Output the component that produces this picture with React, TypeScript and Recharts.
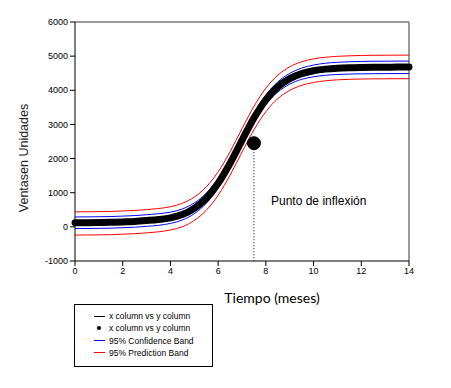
import React from 'react';
import {
  ComposedChart,
  Line,
  XAxis,
  YAxis,
  ReferenceLine,
  ReferenceDot,
} from 'recharts';

// months (x) and fitted sales (y)
const months = [0, 0.5, 1, 1.5, 2, 2.5, 3, 3.5, 4, 4.5, 5, 5.5, 6, 6.5, 7, 7.5, 8, 8.5, 9, 9.5, 10, 10.5, 11, 11.5, 12, 12.5, 13, 13.5, 14];
const fitted = [120, 122, 126, 132, 145, 160, 185, 215, 265, 362, 543, 836, 1276, 1863, 2536, 3187, 3719, 4097, 4340, 4487, 4572, 4620, 4647, 4662, 4670, 4675, 4677, 4679, 4680];
const confUpper = [290, 292, 296, 302, 315, 330, 355, 385, 430, 525, 700, 985, 1420, 2003, 2676, 3327, 3860, 4245, 4495, 4650, 4740, 4792, 4820, 4836, 4845, 4850, 4852, 4854, 4855];
const confLower = [-50, -48, -44, -38, -25, -10, 15, 45, 100, 200, 386, 687, 1132, 1723, 2396, 3047, 3578, 3947, 4180, 4320, 4395, 4440, 4462, 4475, 4482, 4486, 4488, 4490, 4490];
const predUpper = [440, 442, 446, 452, 465, 480, 505, 537, 590, 690, 872, 1168, 1610, 2200, 2875, 3528, 4062, 4442, 4687, 4835, 4920, 4968, 4995, 5010, 5020, 5025, 5027, 5029, 5030];
const predLower = [-240, -238, -234, -228, -215, -200, -175, -145, -92, 5, 188, 484, 926, 1515, 2190, 2842, 3375, 3754, 3997, 4145, 4230, 4279, 4306, 4321, 4330, 4335, 4337, 4339, 4340];

const xTicks = [0, 2, 4, 6, 8, 10, 12, 14];
const yTicks = [-1000, 0, 1000, 2000, 3000, 4000, 5000, 6000];

const inflection = { x: 7.5, y: 2450 };

const legendItems = [
  { label: 'x column vs y column', kind: 'line', color: '#000' },
  { label: 'x column vs y column', kind: 'dot', color: '#000' },
  { label: '95% Confidence Band', kind: 'line', color: '#0000ff' },
  { label: '95% Prediction Band', kind: 'line', color: '#ff0000' },
];

const chartData = months.map((m, i) => ({
  x: m,
  fit: fitted[i],
  cu: confUpper[i],
  cl: confLower[i],
  pu: predUpper[i],
  pl: predLower[i],
}));

const tickStyle = { fontSize: 9, fill: '#000', fontFamily: 'Liberation Sans, Arial, sans-serif' };

export default function App() {
  return (
    <div style={{ position: 'absolute', left: 0, top: 0, width: 451, height: 388, background: '#fff' }}>
      <ComposedChart
        width={451}
        height={388}
        data={chartData}
        margin={{ top: 22, right: 42, bottom: 107, left: 0 }}
      >
        <XAxis
          type="number"
          dataKey="x"
          domain={[0, 14]}
          ticks={xTicks}
          height={20}
          tick={tickStyle}
          tickSize={5}
          tickMargin={2}
          stroke="#000"
          interval={0}
        />
        <YAxis
          type="number"
          domain={[-1000, 6000]}
          ticks={yTicks}
          width={75}
          tick={tickStyle}
          tickSize={5}
          tickMargin={2}
          stroke="#000"
          interval={0}
          label={() => (
            <text
              x={24}
              y={158}
              transform="rotate(-90 24 158)"
              textAnchor="middle"
              dominantBaseline="central"
              fontSize={12.5}
              fontFamily="Liberation Sans, Arial, sans-serif"
              fill="#222"
            >
              Ventasen Unidades
            </text>
          )}
        />
        <ReferenceLine y={6000} stroke="#777" strokeWidth={1.5} />
        <ReferenceLine x={14} stroke="#777" strokeWidth={1.5} />
        <Line dataKey="pu" type="monotone" stroke="#ff0000" strokeWidth={1} dot={false} isAnimationActive={false} />
        <Line dataKey="pl" type="monotone" stroke="#ff0000" strokeWidth={1} dot={false} isAnimationActive={false} />
        <Line dataKey="cu" type="monotone" stroke="#0000ff" strokeWidth={1} dot={false} isAnimationActive={false} />
        <Line dataKey="cl" type="monotone" stroke="#0000ff" strokeWidth={1} dot={false} isAnimationActive={false} />
        <Line dataKey="fit" type="monotone" stroke="#000" strokeWidth={7} strokeLinecap="round" dot={false} isAnimationActive={false} />
        <ReferenceLine
          segment={[{ x: inflection.x, y: inflection.y }, { x: inflection.x, y: -1000 }]}
          stroke="#000"
          strokeDasharray="1 2"
        />
        <ReferenceDot x={inflection.x} y={inflection.y} r={6.5} fill="#000" stroke="#000" />
      </ComposedChart>

      <div
        style={{
          position: 'absolute',
          left: 271,
          top: 194,
          fontSize: 12,
          fontFamily: 'Liberation Sans, Arial, sans-serif',
          color: '#000',
          whiteSpace: 'nowrap',
        }}
      >
        Punto de inflexión
      </div>

      <div
        style={{
          position: 'absolute',
          left: 0,
          width: 544,
          top: 289,
          textAlign: 'center',
          fontSize: 14,
          fontFamily: 'Lato, sans-serif',
          color: '#000',
          whiteSpace: 'nowrap',
        }}
      >
        Tiempo (meses)
      </div>

      <div
        style={{
          position: 'absolute',
          left: 74,
          top: 304,
          width: 137,
          height: 61,
          border: '1px solid #000',
          fontFamily: 'Liberation Sans, Arial, sans-serif',
          fontSize: 8.5,
          color: '#000',
        }}
      >
        {legendItems.map((item, i) => (
          <div
            key={i}
            style={{ position: 'absolute', left: 0, top: 5 + i * 12.3, height: 12, display: 'flex', alignItems: 'center' }}
          >
            <div style={{ width: 34, display: 'flex', justifyContent: 'center', alignItems: 'center', marginLeft: 7 }}>
              {item.kind === 'line' ? (
                <div style={{ width: 11, height: 1, background: item.color }} />
              ) : (
                <div style={{ width: 4, height: 4, borderRadius: 2, background: item.color }} />
              )}
            </div>
            <span style={{ marginLeft: -7 }}>{item.label}</span>
          </div>
        ))}
      </div>
    </div>
  );
}
